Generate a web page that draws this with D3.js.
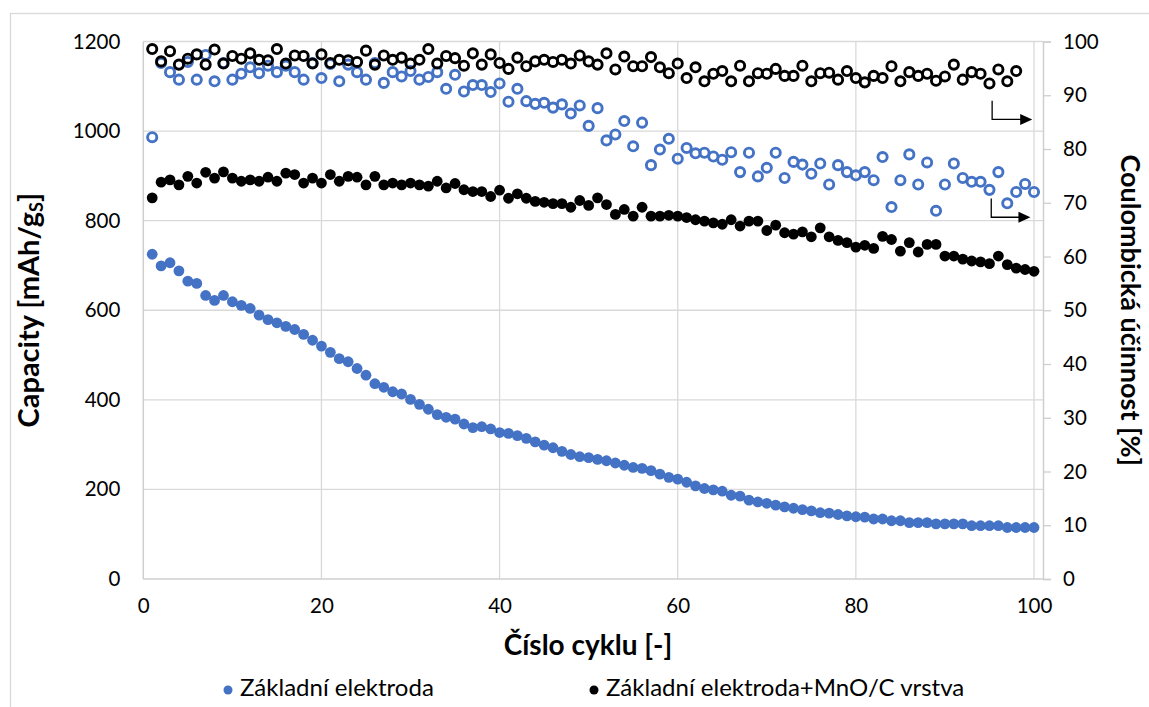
<!DOCTYPE html>
<html><head><meta charset="utf-8">
<script src="https://cdn.jsdelivr.net/npm/d3@7"></script>
<style>body{margin:0;background:#fff;} text{font-family:Lato,"Open Sans",sans-serif;fill:#000;}</style>
</head><body><svg id="c" width="1149" height="707"></svg>
<script>
const cycles = d3.range(1, 101);
const cycles98 = d3.range(1, 99);
// Capacity [mAh/gS]
const capZakladni = [725,699,706,688,665,660,633,622,633,619,611,604,589,579,572,564,557,546,533,520,
 506,492,485,470,455,436,428,418,413,401,390,379,367,361,357,346,338,340,335,327,
 325,320,314,306,299,293,285,278,273,271,267,264,259,254,249,247,242,234,227,223,
 216,208,202,199,196,187,185,176,172,169,165,161,158,155,152,148,147,144,141,139,
 138,134,134,130,130,126,126,126,123,123,123,123,119,119,119,119,115,115,115,115];
const capMnO = [851,886,891,880,899,884,908,895,909,895,888,891,888,897,888,906,903,884,895,884,
 903,888,899,897,880,899,880,884,880,884,880,877,888,873,883,869,865,865,854,868,
 850,860,850,843,841,838,838,830,845,834,851,836,814,825,810,830,810,810,812,810,
 807,802,799,795,792,802,788,799,799,778,790,773,770,775,764,784,764,756,751,741,
 745,738,765,758,732,751,730,747,747,721,721,714,710,708,704,721,702,694,691,687];
// Coulombic efficiency [%]
const ceZakladni = [82.2,96.0,94.3,92.9,96.2,92.9,97.5,92.6,96.0,92.9,94.0,95.2,94.1,95.5,94.3,95.5,94.3,92.9,96.0,93.2,
 95.8,92.6,95.7,94.3,92.9,96.0,92.3,94.3,93.5,94.5,92.9,93.4,94.3,91.2,93.8,90.7,91.9,91.9,90.6,92.2,
 88.8,91.2,88.9,88.4,88.6,87.7,88.3,86.6,88.1,84.3,87.6,81.6,82.7,85.2,80.5,84.9,77.0,79.9,81.9,78.2,
 80.2,79.2,79.3,78.6,78.0,79.4,75.7,79.3,74.9,76.5,79.3,74.6,77.6,77.1,75.4,77.3,73.4,77.0,75.7,75.1,
 75.7,74.2,78.5,69.2,74.2,79.0,73.4,77.5,68.5,73.4,77.3,74.6,73.9,73.9,72.4,75.7,69.9,72.0,73.5,72.0];
const ceMnO = [98.6,96.3,98.2,95.7,96.8,97.6,95.7,98.5,95.9,97.3,96.8,97.8,96.6,96.5,98.6,95.9,97.4,97.3,95.9,97.6,
 96.0,96.6,96.5,96.2,98.3,95.7,97.4,96.6,97.0,95.9,96.6,98.6,95.9,97.3,96.9,95.5,97.8,95.7,97.6,96.0,
 94.9,97.0,95.4,96.3,96.6,96.2,96.6,95.9,97.4,96.3,95.7,97.8,94.8,97.2,95.4,95.4,97.1,95.2,94.1,95.9,
 93.2,95.2,92.6,94.0,94.5,92.6,95.5,92.6,94.1,94.0,94.9,93.6,93.6,95.5,92.6,94.1,94.2,92.9,94.5,93.2,
 92.4,93.6,93.2,95.4,92.6,94.3,93.6,94.0,92.7,93.5,95.7,92.9,94.3,94.0,92.2,94.8,92.6,94.5];
const xTicks = [0,20,40,60,80,100];
const yTicks = [0,200,400,600,800,1000,1200];
const y2Ticks = [0,10,20,30,40,50,60,70,80,90,100];
const legendLabels = ["Základní elektroda","Základní elektroda+MnO/C vrstva"];
// arrow annotations (cycle, % on right axis)
const arrows = [{x0:95.3, yTop:89.0, yBot:85.5, x1:99.8},{x0:95.2, yTop:70.8, yBot:67.3, x1:99.6}];

const BLUE = "#4472C4", GRID = "#d9d9d9";
const svg = d3.select("#c");
const L = 143.3, R = 1034, T = 41.5, B = 579, AXR = 1043;
const x = d3.scaleLinear().domain([0,100]).range([L,R]);
const y = d3.scaleLinear().domain([0,1200]).range([B,T]);
const y2 = d3.scaleLinear().domain([0,100]).range([B,T]);

svg.append("rect").attr("x",10.5).attr("y",13.5).attr("width",1200).attr("height",800)
  .attr("fill","#fff").attr("stroke",GRID).attr("stroke-width",1.3);

// gridlines
svg.append("g").selectAll("line").data(yTicks.filter(d=>d>0)).join("line")
  .attr("x1",L).attr("x2",AXR).attr("y1",d=>y(d)).attr("y2",d=>y(d))
  .attr("stroke",GRID).attr("stroke-width",1.3);
svg.append("g").selectAll("line").data(xTicks.filter(d=>d>0)).join("line")
  .attr("x1",d=>x(d)).attr("x2",d=>x(d)).attr("y1",T).attr("y2",B)
  .attr("stroke",GRID).attr("stroke-width",1.3);
// axis lines
svg.append("line").attr("x1",L).attr("x2",L).attr("y1",T).attr("y2",B).attr("stroke","#cfcfcf").attr("stroke-width",1.5);
svg.append("line").attr("x1",L).attr("x2",AXR).attr("y1",B).attr("y2",B).attr("stroke","#cfcfcf").attr("stroke-width",1.5);

const fs = 20.5;
const gl = svg.append("g").attr("transform",`translate(${L},0)`)
  .call(d3.axisLeft(y).tickValues(yTicks).tickFormat(d3.format("d")).tickSize(0).tickPadding(23));
gl.select(".domain").remove();
gl.selectAll("text").style("font-size",fs+"px");

const gb = svg.append("g").attr("transform",`translate(0,${B})`)
  .call(d3.axisBottom(x).tickValues(xTicks).tickFormat(d3.format("d")).tickSize(0).tickPadding(19));
gb.select(".domain").remove();
gb.selectAll("text").style("font-size",fs+"px");

const gr = svg.append("g").attr("transform",`translate(${AXR},0)`)
  .call(d3.axisRight(y2).tickValues(y2Ticks).tickFormat(d3.format("d")).tickSize(8).tickPadding(12));
gr.select(".domain").attr("stroke","#cfcfcf").attr("stroke-width",1.5);
gr.selectAll(".tick line").attr("stroke","#cfcfcf").attr("stroke-width",1.3);
gr.selectAll("text").style("font-size",fs+"px");

// titles
const ty = svg.append("text").attr("transform",`translate(32,${(T+B)/2}) rotate(-90)`)
  .attr("text-anchor","middle").attr("dominant-baseline","middle")
  .style("font-size","29px").style("font-weight","bold");
ty.append("tspan").text("Capacity [mAh/g");
ty.append("tspan").text("S").style("font-size","18px").attr("dy","6");
ty.append("tspan").text("]").attr("dy","-6");
svg.append("text").attr("transform",`translate(1128,${(T+B)/2}) rotate(90)`)
  .attr("text-anchor","middle").attr("dominant-baseline","middle")
  .style("font-size","27px").style("font-weight","bold").text("Coulombická účinnost [%]");
svg.append("text").attr("x",588).attr("y",648).attr("text-anchor","middle")
  .attr("dominant-baseline","middle").style("font-size","28px").style("font-weight","bold")
  .text("Číslo cyklu [-]");

// series
svg.append("g").selectAll("circle").data(cycles).join("circle")
  .attr("cx",d=>x(d)).attr("cy",(d,i)=>y(capZakladni[i])).attr("r",5.4).attr("fill",BLUE);
svg.append("g").selectAll("circle").data(cycles).join("circle")
  .attr("cx",d=>x(d)).attr("cy",(d,i)=>y(capMnO[i])).attr("r",5.4).attr("fill","#000");
svg.append("g").selectAll("circle").data(cycles).join("circle")
  .attr("cx",d=>x(d)).attr("cy",(d,i)=>y2(ceZakladni[i])).attr("r",4.6)
  .attr("fill","none").attr("stroke",BLUE).attr("stroke-width",2.9);
svg.append("g").selectAll("circle").data(cycles98).join("circle")
  .attr("cx",d=>x(d)).attr("cy",(d,i)=>y2(ceMnO[i])).attr("r",4.6)
  .attr("fill","none").attr("stroke","#000").attr("stroke-width",2.9);

// arrows
const ga = svg.append("g");
arrows.forEach(a=>{
  ga.append("path").attr("d",`M${x(a.x0)},${y2(a.yTop)}V${y2(a.yBot)}H${x(a.x1)-10}`)
    .attr("fill","none").attr("stroke","#000").attr("stroke-width",1.3);
  const ex = x(a.x1), ey = y2(a.yBot);
  ga.append("path").attr("d",`M${ex},${ey}L${ex-12},${ey-5.5}L${ex-12},${ey+5.5}Z`).attr("fill","#000");
});

// legend
const lg = svg.append("g");
const legX = [228, 594], legC = [BLUE, "#000"];
legendLabels.forEach((t,i)=>{
  lg.append("circle").attr("cx",legX[i]).attr("cy",690).attr("r",4.5).attr("fill",legC[i]);
  lg.append("text").attr("x",legX[i]+12).attr("y",690).attr("dominant-baseline","middle")
    .style("font-size","24px").text(t);
});
</script></body></html>
